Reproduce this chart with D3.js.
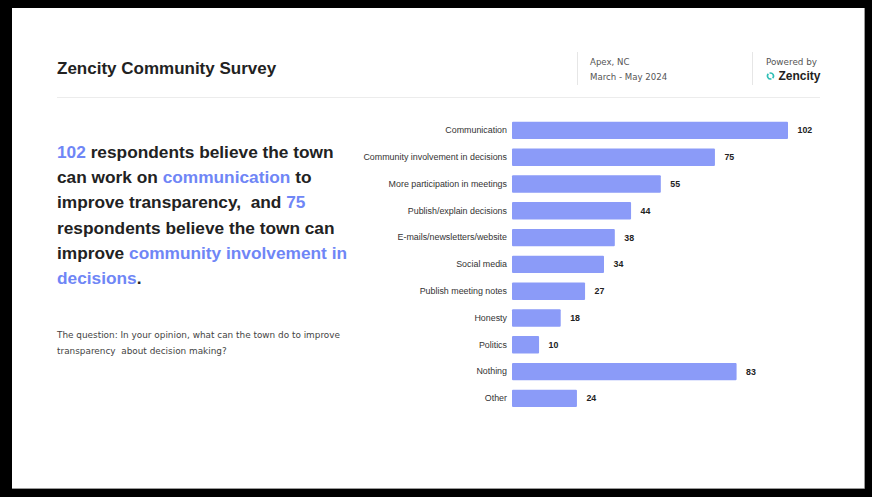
<!DOCTYPE html>
<html>
<head>
<meta charset="utf-8">
<script src="https://cdn.jsdelivr.net/npm/d3@7/dist/d3.min.js"></script>
<style>
  html, body { margin: 0; padding: 0; background: #000; }
  svg { display: block; }
</style>
</head>
<body>
<svg id="chart" width="872" height="497"></svg>
<script>
// Survey answers: what can the town do to improve transparency
const categories = [
  "Communication",
  "Community involvement in decisions",
  "More participation in meetings",
  "Publish/explain decisions",
  "E-mails/newsletters/website",
  "Social media",
  "Publish meeting notes",
  "Honesty",
  "Politics",
  "Nothing",
  "Other"
];
const counts = [102, 75, 55, 44, 38, 34, 27, 18, 10, 83, 24];

const title = "Zencity Community Survey";
const placeLines = ["Apex, NC", "March - May 2024"];
const poweredBy = "Powered by";
const brand = "Zencity";
const question = [
  "The question: In your opinion, what can the town do to improve",
  "transparency  about decision making?"
];
// Headline sentence, split into lines of [text, highlighted] runs
const headline = [
  [["102", true], [" respondents believe the town", false]],
  [["can work on ", false], ["communication", true], [" to", false]],
  [["improve transparency,  and ", false], ["75", true]],
  [["respondents believe the town can", false]],
  [["improve ", false], ["community involvement in", true]],
  [["decisions", true], [".", false]]
];

const svg = d3.select("#chart");
const ink = "#222";
const accent = "#6f86f6";
const barColor = "#8b9bf8";

// card
svg.append("rect").attr("x", 12).attr("y", 8).attr("width", 852).attr("height", 480)
  .attr("fill", "#fff");
svg.append("path").attr("d", "M864.5,8 V488.5 H12")
  .attr("fill", "none").attr("stroke", "#9a9a9a").attr("stroke-width", 1);

// header
svg.append("text").attr("x", 57).attr("y", 74)
  .attr("font-family", "Liberation Sans, Arial, sans-serif")
  .attr("font-weight", "bold").attr("font-size", 17).attr("fill", ink)
  .text(title);

svg.append("line").attr("x1", 57).attr("x2", 820).attr("y1", 97.5).attr("y2", 97.5)
  .attr("stroke", "#ececec").attr("stroke-width", 1);

[577, 752].forEach(x => {
  svg.append("line").attr("x1", x + 0.5).attr("x2", x + 0.5).attr("y1", 52).attr("y2", 85)
    .attr("stroke", "#e6e6e6");
});

const small = "DejaVu Sans, sans-serif";
svg.selectAll("text.place").data(placeLines).join("text")
  .attr("class", "place")
  .attr("x", 590).attr("y", (d, i) => 65 + i * 14.5)
  .attr("font-family", small).attr("font-size", 8.6).attr("fill", "#555")
  .text(d => d);

svg.append("text").attr("x", 766).attr("y", 65)
  .attr("font-family", small).attr("font-size", 8.8).attr("fill", "#555")
  .text(poweredBy);

// brand mark: two opposing arcs
const arc = d3.arc().innerRadius(2.2).outerRadius(3.8);
const logo = svg.append("g").attr("transform", "translate(770.5,76)");
logo.append("path").attr("d", arc({ startAngle: -Math.PI * 0.1, endAngle: Math.PI * 0.75 }))
  .attr("fill", "#2fbfb6");
logo.append("path").attr("d", arc({ startAngle: Math.PI * 0.9, endAngle: Math.PI * 1.75 }))
  .attr("fill", "#2fbfb6");
svg.append("text").attr("x", 778.5).attr("y", 80)
  .attr("font-family", "Liberation Sans, Arial, sans-serif")
  .attr("font-weight", "bold").attr("font-size", 12).attr("fill", "#222")
  .text(brand);

// headline
const head = svg.append("g")
  .attr("font-family", "Liberation Sans, Arial, sans-serif")
  .attr("font-weight", "bold").attr("font-size", 17.3);
headline.forEach((runs, i) => {
  const t = head.append("text").attr("x", 57).attr("y", 158 + i * 25.2)
    .style("white-space", "pre");
  runs.forEach(([s, hi]) => {
    t.append("tspan").attr("fill", hi ? accent : ink).text(s);
  });
});

// question
svg.selectAll("text.q").data(question).join("text")
  .attr("class", "q")
  .attr("x", 57).attr("y", (d, i) => 338 + i * 15.5)
  .attr("font-family", "DejaVu Sans, sans-serif")
  .attr("font-size", 8.9).attr("fill", "#444")
  .style("white-space", "pre")
  .text(d => d);

// bar chart
const y = d3.scaleBand().domain(categories).range([112.3, 416.5]).padding(0.35);
const x = d3.scaleLinear().domain([0, d3.max(counts)]).range([512, 788]);
const rows = categories.map((c, i) => ({ c, v: counts[i] }));

const yAxis = d3.axisLeft(y).tickSize(0).tickPadding(5);
const ax = svg.append("g").attr("transform", `translate(${x(0)},0)`).call(yAxis);
ax.select(".domain").remove();
ax.selectAll("text")
  .attr("font-family", "Liberation Sans, Arial, sans-serif")
  .attr("font-size", 8.9).attr("fill", "#333");

svg.append("g").selectAll("rect").data(rows).join("rect")
  .attr("x", x(0))
  .attr("y", d => y(d.c))
  .attr("width", d => x(d.v) - x(0))
  .attr("height", y.bandwidth())
  .attr("rx", 1)
  .attr("fill", barColor);

svg.append("g").selectAll("text").data(rows).join("text")
  .attr("x", d => x(d.v) + 9.5)
  .attr("y", d => y(d.c) + y.bandwidth() / 2)
  .attr("dy", "0.35em")
  .attr("font-family", "Liberation Sans, Arial, sans-serif")
  .attr("font-weight", "bold").attr("font-size", 8.8).attr("fill", "#222")
  .text(d => d.v);
</script>
</body>
</html>
